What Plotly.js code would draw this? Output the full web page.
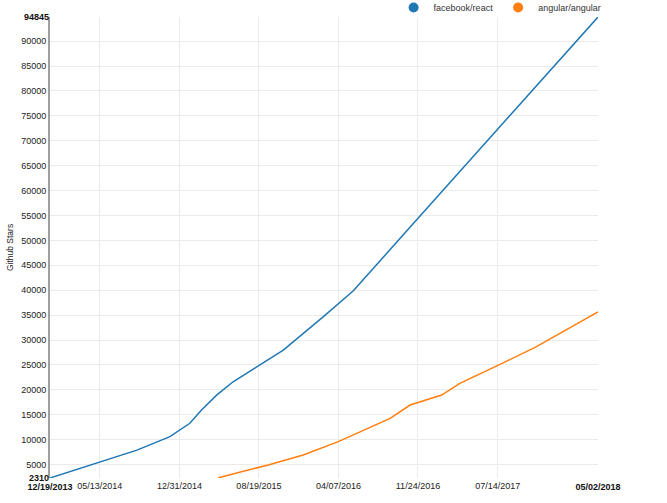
<!DOCTYPE html>
<html>
<head>
<meta charset="utf-8">
<script src="https://cdn.plot.ly/plotly-3.0.1.min.js"></script>
<style>html,body{margin:0;padding:0;background:#fff;}#chart{width:667px;height:503px;}</style>
</head>
<body>
<div id="chart"></div>
<script>
// facebook/react stars over time
const reactDates = ["2013-12-19","2014-08-29","2014-12-03","2015-01-30","2015-03-05","2015-04-18","2015-06-05","2015-08-22","2015-10-29","2016-02-22","2016-05-20","2016-11-30","2017-03-31","2018-05-02"];
const reactStars = [2310,7900,10600,13300,15950,18950,21630,24970,27980,34650,39900,54900,64200,94845];
// angular/angular stars over time
const angularDates = ["2015-04-23","2015-09-15","2015-12-26","2016-04-06","2016-09-04","2016-11-01","2017-02-01","2017-03-26","2017-07-16","2017-10-31","2018-05-02"];
const angularStars = [2350,4930,6940,9600,14290,16960,18960,21300,24970,28520,35650];

const seriesNames = ["facebook/react","angular/angular"];
const seriesColors = ["#1f77b4","#ff7f0e"];

const xStart = "2013-12-19", xEnd = "2018-05-02";
const xTickVals = ["2014-05-13","2014-12-31","2015-08-19","2016-04-07","2016-11-24","2017-07-14"];
const xTickText = ["05/13/2014","12/31/2014","08/19/2015","04/07/2016","11/24/2016","07/14/2017"];
const xEdgeText = ["<b>12/19/2013</b>","<b>05/02/2018</b>"];
const yMin = 2310, yMax = 94845;
const yTickVals = [5000,10000,15000,20000,25000,30000,35000,40000,45000,50000,55000,60000,65000,70000,75000,80000,85000,90000];
const yEdgeText = ["<b>2310</b>","<b>94845</b>"];

const FONT = "Liberation Sans, Arial, sans-serif";

const traces = [
  {x: reactDates, y: reactStars, type: "scatter", mode: "lines", name: seriesNames[0],
   line: {color: seriesColors[0], width: 1.5}, showlegend: false},
  {x: angularDates, y: angularStars, type: "scatter", mode: "lines", name: seriesNames[1],
   line: {color: seriesColors[1], width: 1.5}, showlegend: false},
  {x: [null], y: [null], type: "scatter", mode: "markers", name: seriesNames[0], xaxis: "x2", yaxis: "y2",
   marker: {color: seriesColors[0], size: 10, symbol: "circle"}},
  {x: [null], y: [null], type: "scatter", mode: "markers", name: seriesNames[1], xaxis: "x2", yaxis: "y2",
   marker: {color: seriesColors[1], size: 10, symbol: "circle"}}
];

const layout = {
  width: 667, height: 503,
  margin: {l: 50, r: 69, t: 17, b: 25, pad: 0, autoexpand: false},
  paper_bgcolor: "#fff", plot_bgcolor: "#fff",
  font: {family: FONT, size: 9, color: "#222"},
  showlegend: true,
  legend: {orientation: "h", x: 0.627, xanchor: "left", y: 1.052, yanchor: "top",
           font: {family: FONT, size: 9, color: "#333"}, bgcolor: "rgba(0,0,0,0)",
           itemsizing: "trace"},
  xaxis: {type: "date", range: [xStart, xEnd], tickmode: "array", tickvals: xTickVals, ticktext: xTickText,
          showgrid: true, gridcolor: "#ebebeb", gridwidth: 1, zeroline: false, showline: false,
          ticks: "", ticklabelstandoff: 1, tickfont: {family: FONT, size: 9, color: "#222"}, automargin: false},
  yaxis: {range: [yMin, yMax], tickmode: "array", tickvals: yTickVals,
          ticktext: yTickVals.map(String),
          showgrid: true, gridcolor: "#ebebeb", gridwidth: 1, zeroline: false,
          showline: true, linecolor: "#a0a0a0", linewidth: 2, ticks: "",
          tickfont: {family: FONT, size: 9, color: "#222"}, automargin: false,
          title: {text: "Github Stars", font: {family: FONT, size: 8.5, color: "#222"}, standoff: 6}},
  xaxis2: {type: "date", overlaying: "x", anchor: "y2", range: [xStart, xEnd], tickmode: "array",
           tickvals: [xStart, xEnd], ticktext: xEdgeText, showgrid: false, zeroline: false,
           showline: false, ticks: "", ticklabelstandoff: 2, tickfont: {family: FONT, size: 9, color: "#111"}, automargin: false},
  yaxis2: {overlaying: "y", anchor: "x2", side: "left", range: [yMin, yMax], tickmode: "array",
           tickvals: [yMin, yMax], ticktext: yEdgeText, showgrid: false, zeroline: false,
           showline: false, ticks: "", tickfont: {family: FONT, size: 9, color: "#111"}, automargin: false}
};

Plotly.newPlot("chart", traces, layout, {displayModeBar: false, staticPlot: true});
</script>
</body>
</html>
